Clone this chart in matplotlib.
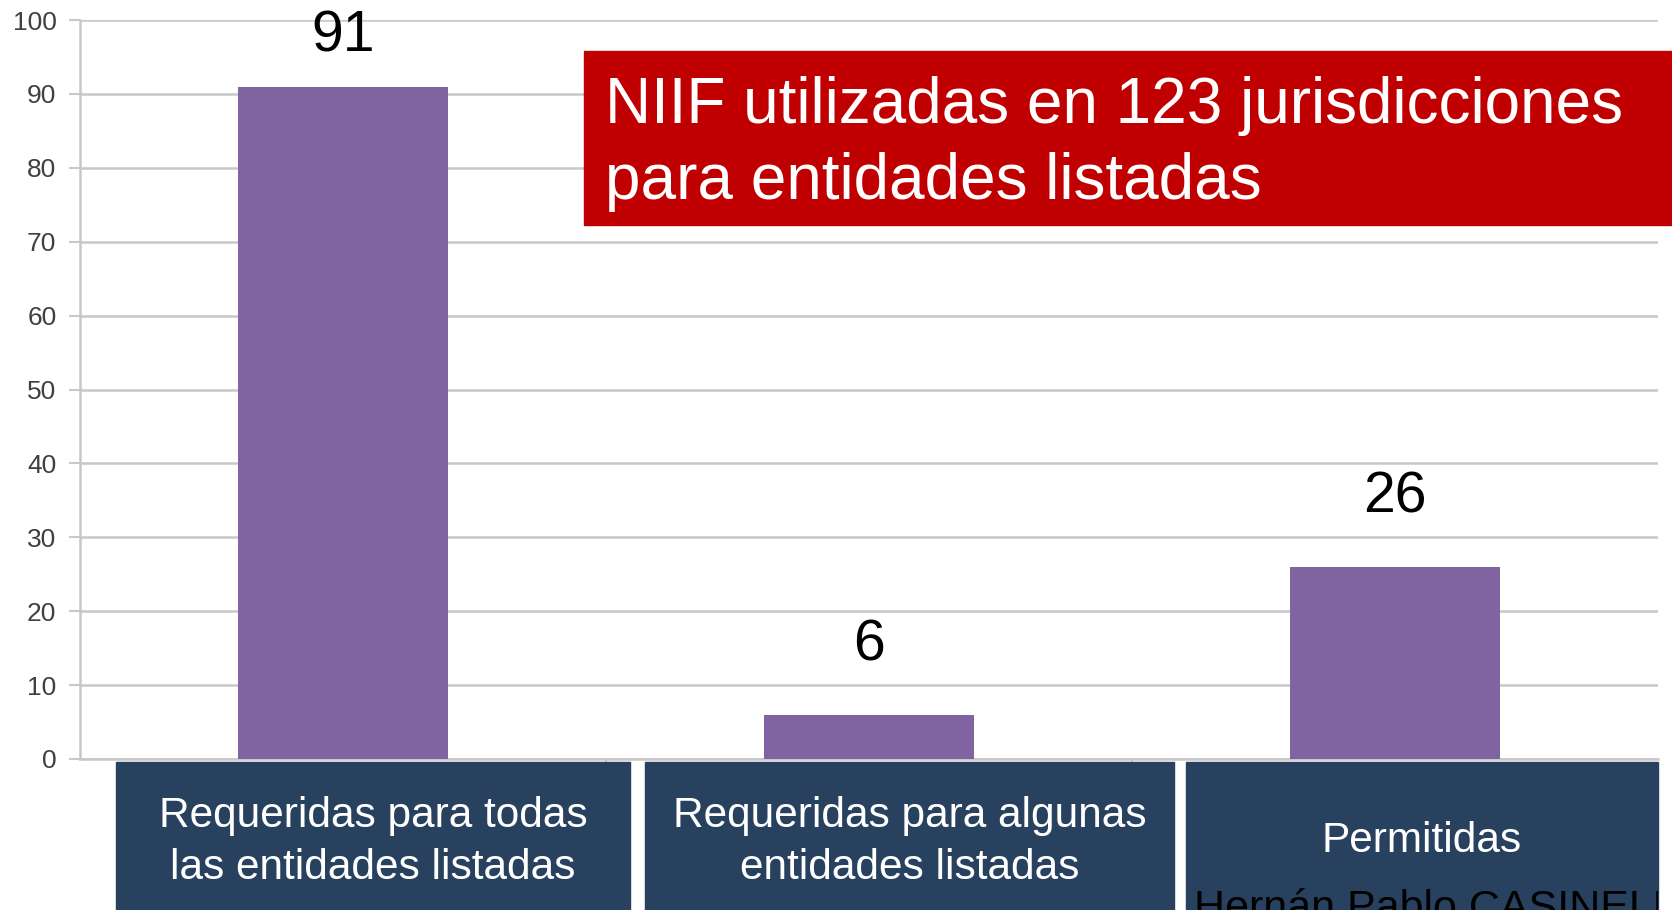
import numpy as np
import matplotlib.pyplot as plt
from matplotlib.patches import Rectangle

# Chart data
categories = ["Requeridas para todas\nlas entidades listadas",
              "Requeridas para algunas\nentidades listadas",
              "Permitidas"]
values = [91, 6, 26]
y_ticks = [0, 10, 20, 30, 40, 50, 60, 70, 80, 90, 100]
banner_text = "NIIF utilizadas en 123 jurisdicciones\npara entidades listadas"
author_text = "Hernán Pablo CASINELLI"

BAR_COLOR = "#8064A2"
BOX_COLOR = "#27415F"
RED = "#C00000"
GRID = "#C8C8C8"

plt.rcParams['font.family'] = ['Liberation Sans', 'DejaVu Sans']

W, H = 1672, 910
fig = plt.figure(figsize=(W / 100, H / 100), dpi=100)

# axes placed in pixel terms of the reference
ax_left, ax_right, ax_top, ax_bottom = 80, 1658, 20, 759
ax = fig.add_axes([ax_left / W, 1 - ax_bottom / H,
                   (ax_right - ax_left) / W, (ax_bottom - ax_top) / H])

x = np.arange(len(values))
ax.bar(x, values, width=0.4, color=BAR_COLOR, zorder=3)
ax.set_xlim(-0.5, len(values) - 0.5)
ax.set_ylim(0, 100)
ax.set_yticks(y_ticks)
ax.tick_params(axis='y', labelsize=19, labelcolor="#404040", color=GRID,
               length=8, width=1.5, pad=9)
ax.set_xticks([])
ax.set_xticks(np.arange(0.5, len(values) - 0.5), minor=True)
ax.tick_params(axis='x', which='minor', length=5, color=GRID, width=1.5)
ax.tick_params(axis='x', which='minor', labelbottom=False)
ax.grid(axis='y', color=GRID, linewidth=1.8, zorder=0)
for side in ["top", "right"]:
    ax.spines[side].set_visible(False)
ax.spines["left"].set_color(GRID)
ax.spines["left"].set_linewidth(1.8)
ax.spines["bottom"].set_color(GRID)
ax.spines["bottom"].set_linewidth(1.8)

# value labels above bars
for xi, v in zip(x, values):
    ax.text(xi, min(v + 9.4, 97.8), str(v), ha='center', va='center',
            fontsize=41, color="black", zorder=5, clip_on=False)

# red banner
fig.patches.append(Rectangle((584 / W, 1 - 225 / H), (W - 584) / W, 174 / H,
                             transform=fig.transFigure, color=RED, zorder=10))
fig.text(605 / W, 1 - 144 / H, banner_text, fontsize=46, color="white",
         ha='left', va='center', linespacing=1.32, zorder=11)

# category boxes under the axis
boxes = [(116, 630), (645, 1174), (1186, 1658)]
text_y = [842, 842, 841]
for (x0, x1), label, ty in zip(boxes, categories, text_y):
    fig.patches.append(Rectangle((x0 / W, 0), (x1 - x0) / W, (H - 762) / H,
                                 transform=fig.transFigure, color=BOX_COLOR,
                                 zorder=10))
    fig.text((x0 + x1) / 2 / W, 1 - ty / H, label, fontsize=30.5,
             color="white", ha='center', va='center', linespacing=1.36,
             zorder=11)

# author credit, cut by the last box
x0, x1 = boxes[-1]
clip = Rectangle((x0 / W, 0), (x1 - x0) / W, (H - 762) / H,
                 transform=fig.transFigure, visible=False)
fig.patches.append(clip)
t = fig.text(1194 / W, 1 - 889 / H, author_text, fontsize=31, color="black",
             ha='left', va='top', zorder=12)
t.set_clip_path(clip)

fig.savefig("out.png", dpi=100)
